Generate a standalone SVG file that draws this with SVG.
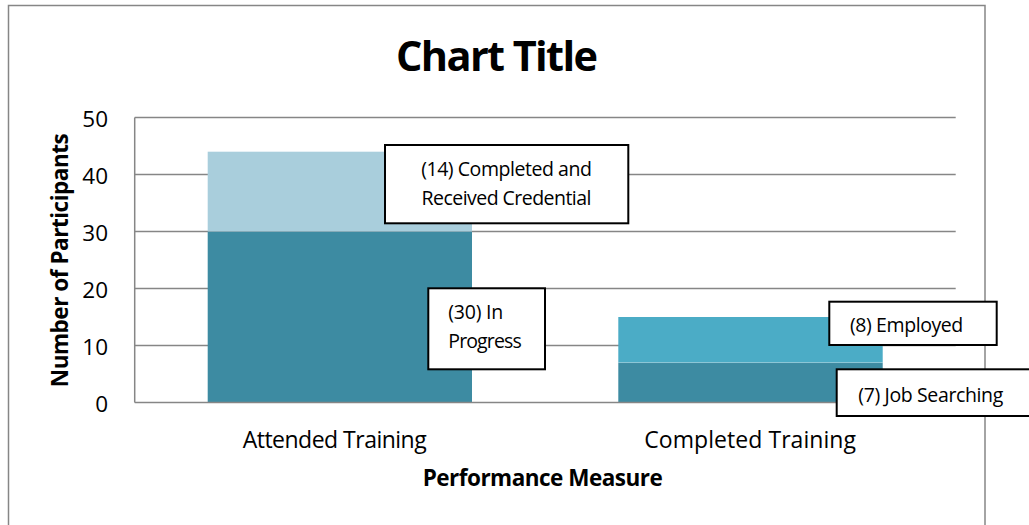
<svg xmlns="http://www.w3.org/2000/svg" width="1029" height="525" viewBox="0 0 1029 525">
  <style>
    text { font-family: "Open Sans", "Liberation Sans", sans-serif; fill: #000; }
    .tick { font-size: 22.5px; text-anchor: end; }
    .cat { font-size: 23px; }
    .axt { font-size: 22.5px; font-weight: bold; }
    .lbl { font-size: 19.5px; }
    .grid { stroke: #868686; stroke-width: 1.5; fill: none; }
    .box { fill: #FFFFFF; stroke: #000000; stroke-width: 2; }
  </style>
  <rect x="0" y="0" width="1029" height="525" fill="#FFFFFF"/>
  <g id="chart-frame">
    <rect x="8.5" y="5.5" width="976.5" height="540" fill="#FFFFFF" stroke="#868686" stroke-width="1.5"/>
  </g>
  <g id="title">
    <text x="396" y="70.7" font-size="41.5" font-weight="bold" textLength="202">Chart Title</text>
  </g>
  <g id="gridlines">
    <line class="grid" x1="134.7" y1="117.5" x2="955.7" y2="117.5"/>
    <line class="grid" x1="134.7" y1="174.5" x2="955.7" y2="174.5"/>
    <line class="grid" x1="134.7" y1="231.5" x2="955.7" y2="231.5"/>
    <line class="grid" x1="134.7" y1="288.5" x2="955.7" y2="288.5"/>
    <line class="grid" x1="134.7" y1="345.5" x2="955.7" y2="345.5"/>
  </g>
  <g id="bar-attended">
    <rect x="207.7" y="231.5" width="264.3" height="171" fill="#3D8BA2"/>
    <rect x="207.7" y="151.7" width="264.3" height="79.8" fill="#A9CEDC"/>
  </g>
  <g id="bar-completed">
    <rect x="618.3" y="362.6" width="264.4" height="39.9" fill="#3D8BA2"/>
    <rect x="618.3" y="317" width="264.4" height="45.6" fill="#4BACC6"/>
    <line x1="618.3" y1="362.6" x2="882.7" y2="362.6" stroke="#FFFFFF" stroke-opacity="0.2" stroke-width="1"/>
  </g>
  <g id="axes">
    <line class="grid" x1="134.7" y1="117.5" x2="134.7" y2="402.5"/>
    <line class="grid" x1="134.7" y1="402.5" x2="955.7" y2="402.5"/>
  </g>
  <g id="y-ticks">
    <text class="tick" x="108" y="411.5">0</text>
    <text class="tick" x="108" y="354.5">10</text>
    <text class="tick" x="108" y="297.5">20</text>
    <text class="tick" x="108" y="240.5">30</text>
    <text class="tick" x="108" y="183.5">40</text>
    <text class="tick" x="108" y="126.5">50</text>
  </g>
  <g id="y-axis-title">
    <text class="axt" transform="translate(68,260.2) rotate(-90)" x="0" y="0" text-anchor="middle" textLength="254">Number of Participants</text>
  </g>
  <g id="x-categories">
    <text class="cat" x="242.7" y="447.5" textLength="184">Attended Training</text>
    <text class="cat" x="644.3" y="447.5" textLength="211.7">Completed Training</text>
  </g>
  <g id="x-axis-title">
    <text class="axt" x="422.7" y="485.7" textLength="240">Performance Measure</text>
  </g>
  <g id="label-credential">
    <rect class="box" x="385" y="145" width="243.3" height="78.3"/>
    <text class="lbl" x="506.5" y="176" text-anchor="middle" textLength="170.7">(14) Completed and</text>
    <text class="lbl" x="506.5" y="205" text-anchor="middle" textLength="170">Received Credential</text>
  </g>
  <g id="label-in-progress">
    <rect class="box" x="428.3" y="288.3" width="116.7" height="81"/>
    <text class="lbl" x="448.3" y="319.3" textLength="55">(30) In</text>
    <text class="lbl" x="448.3" y="348.3" textLength="73.4">Progress</text>
  </g>
  <g id="label-employed">
    <rect class="box" x="829.3" y="301.7" width="167.4" height="43.3"/>
    <text class="lbl" x="850" y="332" textLength="113.3">(8) Employed</text>
  </g>
  <g id="label-job-searching">
    <rect class="box" x="836.7" y="369.3" width="200" height="46.7"/>
    <text class="lbl" x="858.3" y="401.5" textLength="145">(7) Job Searching</text>
  </g>
</svg>
